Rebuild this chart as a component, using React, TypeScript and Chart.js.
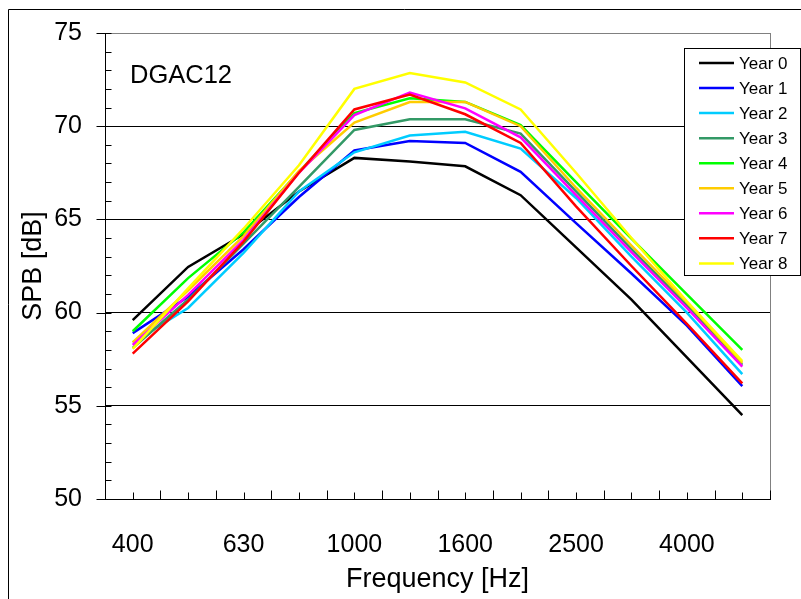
import React, { useEffect, useRef } from "react";
import { Chart, registerables } from "chart.js";

Chart.register(...registerables);

const categories = ["400", "500", "630", "800", "1000", "1250", "1600", "2000", "2500", "3150", "4000", "5000"];
const shownTickLabels = ["400", "630", "1000", "1600", "2500", "4000"];

const seriesNames = ["Year 0", "Year 1", "Year 2", "Year 3", "Year 4", "Year 5", "Year 6", "Year 7", "Year 8"];
const seriesColors = ["#000000", "#0000FF", "#00CCFF", "#339966", "#00FF00", "#FFCC00", "#FF00FF", "#FF0000", "#FFFF00"];

const year0 = [59.6, 62.45, 64.2, 66.5, 68.3, 68.1, 67.85, 66.3, 63.5, 60.7, 57.6, 54.5];
const year1 = [58.9, 60.85, 63.4, 66.2, 68.7, 69.2, 69.1, 67.55, 64.8, 62.1, 59.3, 56.06];
const year2 = [58.4, 60.25, 63.2, 66.5, 68.6, 69.5, 69.7, 68.8, 66.15, 63.0, 60.0, 56.7];
const year3 = [58.1, 60.7, 63.7, 66.75, 69.8, 70.37, 70.37, 69.6, 66.5, 63.4, 60.4, 57.2];
const year4 = [59.0, 61.85, 64.3, 67.55, 70.7, 71.5, 71.3, 70.06, 67.0, 63.97, 60.98, 58.0];
const year5 = [58.4, 61.2, 64.1, 67.6, 70.2, 71.3, 71.3, 70.0, 66.7, 63.6, 60.55, 57.3];
const year6 = [58.26, 60.95, 63.9, 67.5, 70.6, 71.8, 70.96, 69.4, 66.3, 63.25, 60.25, 57.1];
const year7 = [57.8, 60.6, 63.8, 67.5, 70.9, 71.7, 70.64, 69.1, 65.7, 62.5, 59.4, 56.2];
const year8 = [58.05, 61.3, 64.5, 67.9, 72.0, 72.85, 72.35, 70.9, 67.5, 64.0, 60.6, 57.4];

const seriesValues = [year0, year1, year2, year3, year4, year5, year6, year7, year8];

const Y_MIN = 50;
const Y_MAX = 75;
const Y_STEP = 5;
const annotationText = "DGAC12";
const xTitle = "Frequency [Hz]";
const yTitle = "SPB [dB]";

const FONT = "'Liberation Sans', Arial, sans-serif";

const decorPlugin = {
  id: "decor",
  afterDraw(chart: any) {
    const ctx = chart.ctx;
    const area = chart.chartArea;
    const xs = chart.scales.x;
    const ys = chart.scales.y;
    ctx.save();

    // outer frame (clipped by viewport on right/bottom)
    ctx.strokeStyle = "#000";
    ctx.lineWidth = 1;
    ctx.beginPath();
    ctx.moveTo(8.5, 599);
    ctx.lineTo(8.5, 9.5);
    ctx.lineTo(801, 9.5);
    ctx.stroke();

    // right plot border
    ctx.strokeStyle = "#808080";
    ctx.beginPath();
    ctx.moveTo(Math.round(area.right) + 0.5, area.top);
    ctx.lineTo(Math.round(area.right) + 0.5, area.bottom);
    ctx.stroke();

    // y ticks: major outward, minor inward
    ctx.strokeStyle = "#000";
    const left = Math.round(area.left) + 0.5;
    for (let v = Y_MIN; v <= Y_MAX; v++) {
      const y = Math.round(ys.getPixelForValue(v)) + 0.5;
      ctx.beginPath();
      if (v % Y_STEP === 0) {
        ctx.moveTo(left - 9, y);
        ctx.lineTo(left, y);
      }
      ctx.moveTo(left, y);
      ctx.lineTo(left + 6, y);
      ctx.stroke();
    }

    // x ticks: short at centers, long at boundaries
    const bottom = Math.round(area.bottom) + 0.5;
    const n = categories.length;
    for (let i = 0; i < n; i++) {
      const cx = Math.round(xs.getPixelForValue(i)) + 0.5;
      ctx.beginPath();
      ctx.moveTo(cx, bottom);
      ctx.lineTo(cx, bottom - 7);
      ctx.stroke();
    }
    for (let i = 0; i <= n; i++) {
      let bx;
      if (i === 0) bx = area.left;
      else if (i === n) bx = area.right;
      else bx = (xs.getPixelForValue(i - 1) + xs.getPixelForValue(i)) / 2;
      bx = Math.round(bx) + 0.5;
      ctx.beginPath();
      ctx.moveTo(bx, bottom);
      ctx.lineTo(bx, bottom - 9);
      ctx.stroke();
    }

    // annotation
    ctx.fillStyle = "#000";
    ctx.font = `25.5px ${FONT}`;
    ctx.textAlign = "left";
    ctx.textBaseline = "middle";
    ctx.fillText(annotationText, 130, 76);

    // legend
    const lx = 684, ly = 48, lw = 116, lh = 227;
    ctx.fillStyle = "#fff";
    ctx.fillRect(lx, ly, lw, lh);
    ctx.strokeStyle = "#000";
    ctx.lineWidth = 1;
    ctx.strokeRect(lx + 0.5, ly + 0.5, lw, lh);
    ctx.font = `17px ${FONT}`;
    for (let i = 0; i < seriesNames.length; i++) {
      const yy = 63 + i * 25.05;
      ctx.strokeStyle = seriesColors[i];
      ctx.lineWidth = 2.5;
      ctx.beginPath();
      ctx.moveTo(699, yy);
      ctx.lineTo(734, yy);
      ctx.stroke();
      ctx.fillStyle = "#000";
      ctx.fillText(seriesNames[i], 739, yy + 1);
    }
    ctx.restore();
  },
};

export default function App() {
  const ref = useRef<HTMLCanvasElement | null>(null);

  useEffect(() => {
    if (!ref.current) return;
    Chart.defaults.font.family = FONT;
    const chart = new Chart(ref.current, {
      type: "line",
      data: {
        labels: categories,
        datasets: seriesValues.map((vals, i) => ({
          label: seriesNames[i],
          data: vals,
          borderColor: seriesColors[i],
          backgroundColor: seriesColors[i],
          borderWidth: 2.5,
          pointRadius: 0,
          tension: 0,
          fill: false,
          order: seriesNames.length - i,
        })),
      },
      options: {
        responsive: false,
        animation: false,
        devicePixelRatio: 1,
        layout: { padding: { left: 0, right: 31, top: 33, bottom: 0 } },
        plugins: {
          legend: { display: false },
          tooltip: { enabled: false },
        },
        scales: {
          x: {
            type: "category",
            offset: true,
            grid: { display: false, drawTicks: false },
            border: { display: true, color: "#000", width: 1 },
            ticks: {
              autoSkip: false,
              maxRotation: 0,
              minRotation: 0,
              padding: 31,
              color: "#000",
              font: { size: 25, family: FONT },
              callback: (_v: any, i: number) =>
                shownTickLabels.includes(categories[i]) ? categories[i] : "",
            },
            title: {
              display: true,
              text: xTitle,
              color: "#000",
              font: { size: 27, family: FONT, lineHeight: 1.2 },
              padding: { top: 0, bottom: 3 },
            },
            afterFit: (scale: any) => {
              scale.height = 100;
              scale.paddingLeft = 0;
              scale.paddingRight = 0;
            },
          },
          y: {
            min: Y_MIN,
            max: Y_MAX,
            grid: {
              drawTicks: false,
              color: (c: any) => (c.tick && c.tick.value === Y_MAX ? "#808080" : "#000"),
              lineWidth: 1,
            },
            border: { display: true, color: "#000", width: 1 },
            ticks: {
              stepSize: Y_STEP,
              padding: 23,
              color: "#000",
              font: { size: 25, family: FONT },
            },
            title: {
              display: true,
              text: yTitle,
              color: "#000",
              font: { size: 27, family: FONT, lineHeight: 1 },
              padding: { top: 20, bottom: 0 },
            },
            afterFit: (scale: any) => {
              scale.width = 105;
              scale.paddingTop = 0;
              scale.paddingBottom = 0;
            },
          },
        },
      },
      plugins: [decorPlugin],
    });
    return () => chart.destroy();
  }, []);

  return (
    <div style={{ position: "fixed", left: 0, top: 0, width: 801, height: 599, background: "#fff" }}>
      <canvas ref={ref} width={801} height={599} style={{ display: "block", width: 801, height: 599 }} />
    </div>
  );
}
